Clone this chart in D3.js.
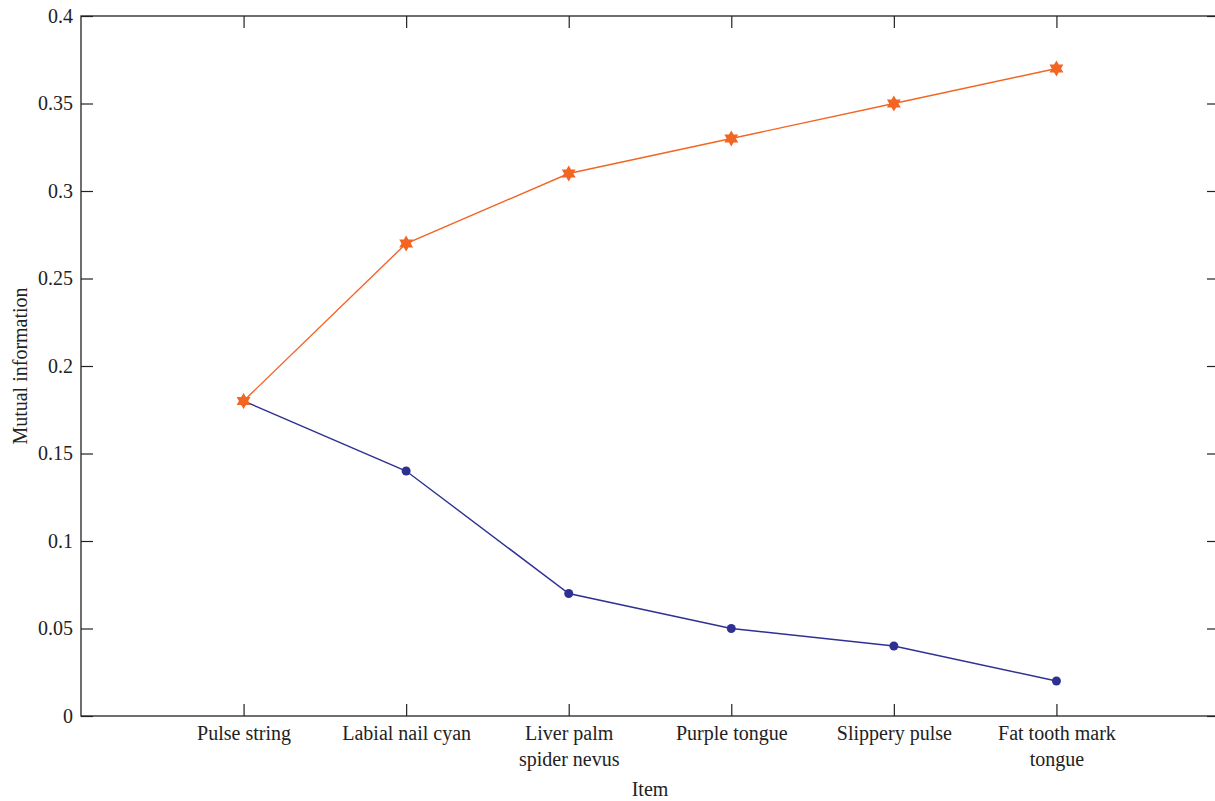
<!DOCTYPE html>
<html><head><meta charset="utf-8">
<script src="https://cdn.jsdelivr.net/npm/d3@7"></script>
<style>body{margin:0;background:#fff;} svg{display:block;} text{font-family:"Liberation Serif","DejaVu Serif",serif;fill:#222;}</style>
</head><body>
<svg id="c" width="1215" height="801"></svg>
<script>
const categories = [["Pulse string"],["Labial nail cyan"],["Liver palm","spider nevus"],["Purple tongue"],["Slippery pulse"],["Fat tooth mark","tongue"]];
const seriesOrange = [0.18,0.27,0.31,0.33,0.35,0.37];
const seriesBlue = [0.18,0.14,0.07,0.05,0.04,0.02];
const yTicks = [0,0.05,0.1,0.15,0.2,0.25,0.3,0.35,0.4];
const yTickLabels = ["0","0.05","0.1","0.15","0.2","0.25","0.3","0.35","0.4"];

const svg = d3.select("#c");
const L=81, R=1219, T=16, B=716;
const x = d3.scaleLinear().domain([0,7]).range([L,R]);
const y = d3.scaleLinear().domain([0,0.4]).range([B,T]);
const idx = d3.range(1,categories.length+1);
const fs = 20;

// frame
svg.append("rect").attr("x",L).attr("y",T).attr("width",R-L).attr("height",B-T)
  .attr("fill","none").attr("stroke","#222").attr("stroke-width",1.3);

// left axis
const la = svg.append("g").attr("transform",`translate(${L},0)`)
  .call(d3.axisLeft(y).tickValues(yTicks).tickFormat((d,i)=>yTickLabels[i]).tickSizeInner(-12).tickSizeOuter(0).tickPadding(8));
la.select(".domain").remove();
la.selectAll("line").attr("stroke","#222").attr("stroke-width",1.2);
la.selectAll("text").style("font-size",fs+"px").attr("fill","#222").attr("dy","0.3em");
// right ticks
const ra = svg.append("g").attr("transform",`translate(${R},0)`)
  .call(d3.axisRight(y).tickValues(yTicks).tickFormat("").tickSizeInner(-12).tickSizeOuter(0));
ra.select(".domain").remove();
ra.selectAll("line").attr("stroke","#222").attr("stroke-width",1.2);

// bottom axis
const ba = svg.append("g").attr("transform",`translate(0,${B})`)
  .call(d3.axisBottom(x).tickValues(idx).tickFormat("").tickSizeInner(-12).tickSizeOuter(0));
ba.select(".domain").remove();
ba.selectAll("line").attr("stroke","#222").attr("stroke-width",1.2);
ba.selectAll(".tick").each(function(d){
  const lines = categories[d-1];
  const t = d3.select(this).append("text").attr("text-anchor","middle").style("font-size",fs+"px").attr("fill","#222");
  lines.forEach((s,i)=>t.append("tspan").attr("x",0).attr("y",24+i*26).text(s));
});
// top ticks
const ta = svg.append("g").attr("transform",`translate(0,${T})`)
  .call(d3.axisTop(x).tickValues(idx).tickFormat("").tickSizeInner(-12).tickSizeOuter(0));
ta.select(".domain").remove();
ta.selectAll("line").attr("stroke","#222").attr("stroke-width",1.2);

// axis titles
svg.append("text").attr("x",(L+R)/2).attr("y",796).attr("text-anchor","middle").style("font-size",fs+"px").text("Item");
svg.append("text").attr("transform",`translate(27,${(T+B)/2}) rotate(-90)`).attr("text-anchor","middle").style("font-size",fs+"px").text("Mutual information");

// lines
const line = d3.line().x((d,i)=>x(i+1)).y(d=>y(d));
const orange="#F26522", blue="#2E3192";
svg.append("path").datum(seriesBlue).attr("d",line).attr("fill","none").attr("stroke",blue).attr("stroke-width",1.4);
svg.append("path").datum(seriesOrange).attr("d",line).attr("fill","none").attr("stroke",orange).attr("stroke-width",1.4);

svg.selectAll(".bm").data(seriesBlue).enter().append("circle")
  .attr("cx",(d,i)=>x(i+1)).attr("cy",d=>y(d)).attr("r",4.5).attr("fill",blue);

// hexagram marker
function hexPath(r){
  const pts=[];
  for(let k=0;k<12;k++){
    const a = -Math.PI/2 + k*Math.PI/6;
    const rr = k%2===0 ? r : r*0.58;
    pts.push([rr*Math.cos(a), rr*Math.sin(a)]);
  }
  return "M"+pts.map(p=>p.join(",")).join("L")+"Z";
}
svg.selectAll(".om").data(seriesOrange).enter().append("path")
  .attr("transform",(d,i)=>`translate(${x(i+1)},${y(d)})`).attr("d",hexPath(8)).attr("fill",orange);
</script>
</body></html>
